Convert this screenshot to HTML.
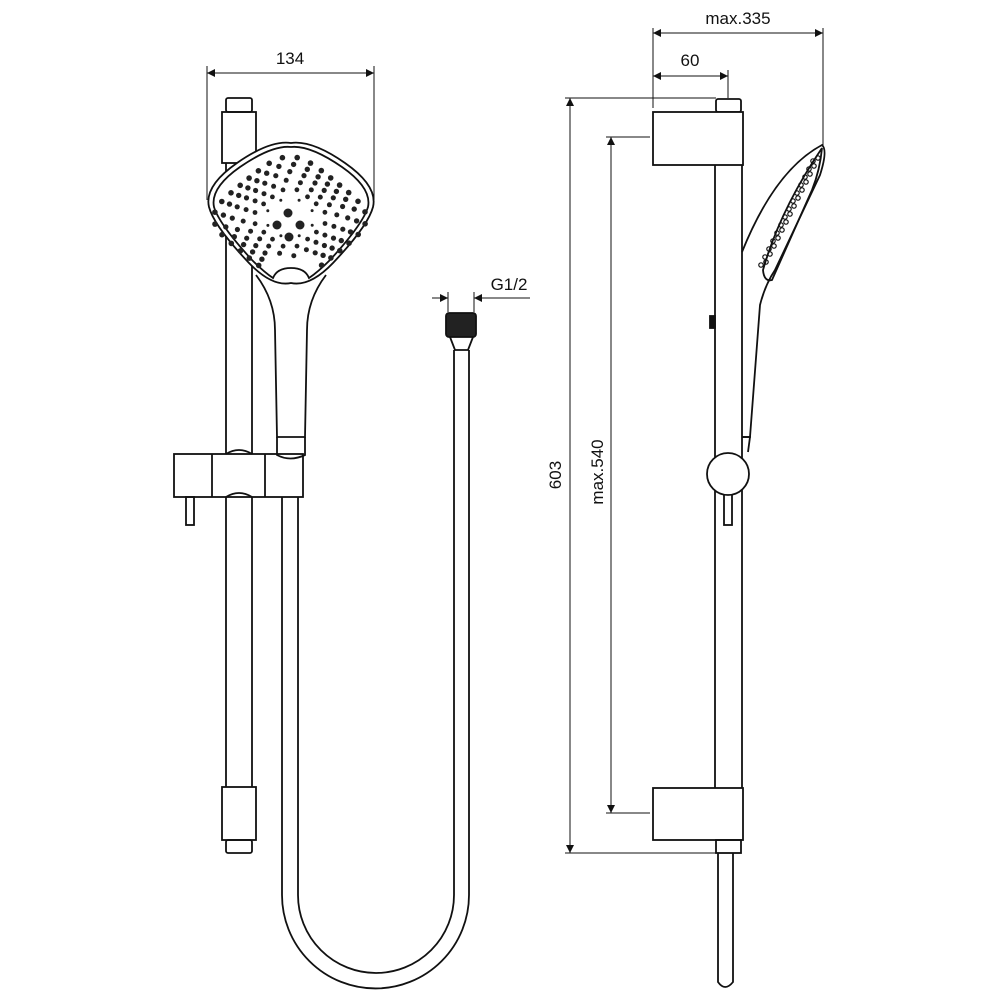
<!DOCTYPE html>
<html><head><meta charset="utf-8"><style>
html,body{margin:0;padding:0;background:#fff;}
svg{display:block;}
text{font-family:"Liberation Sans",Arial,sans-serif;font-size:17px;fill:#111;}
</style></head><body>
<svg id="s" width="1000" height="1000" viewBox="0 0 1000 1000" xmlns="http://www.w3.org/2000/svg">
<defs>
<marker id="a" viewBox="0 0 10 10" refX="10" refY="5" markerWidth="14" markerHeight="8" markerUnits="userSpaceOnUse" orient="auto-start-reverse"><path d="M0,0L10,5L0,10z" fill="#111"/></marker>
</defs>
<g fill="none" stroke="#111" stroke-width="1.8">
<rect x="226" y="98" width="26" height="14" rx="2"/>
<rect x="222" y="112" width="34" height="51"/>
<line x1="226" y1="163" x2="226" y2="787"/>
<line x1="252" y1="163" x2="252" y2="787"/>
<rect x="222" y="787" width="34" height="53"/>
<rect x="226" y="840" width="26" height="13" rx="2"/>
<path d="M282,497 L282,895 A93.5,93.5 0 0 0 469,895 L469,350"/>
<path d="M298,497 L298,895 A78,78 0 0 0 454,895 L454,350"/>
<path d="M450,337 L455,350 L468,350 L473,337"/>
<rect x="446" y="313" width="30" height="24" rx="3" fill="#222"/>
<rect x="174" y="454" width="129" height="43" fill="#fff"/>
<line x1="212" y1="454" x2="212" y2="497"/>
<line x1="265" y1="454" x2="265" y2="497"/>
<path d="M226,454 Q239,446 252,454"/>
<path d="M226,497 Q239,489 252,497"/>
<rect x="186" y="497" width="8" height="28"/>
<path d="M256,275 Q275,300 275,330 L277,437 L305,437 L307,330 Q307,300 326,275" fill="#fff"/>
<path d="M277,437 L277,455 Q290,462 305,455 L305,437"/>
<path d="M291,143 Q312,140 345,163 Q378,186 373,207 Q368,226 333,263 Q310,287 291,283 Q272,287 249,263 Q214,226 209,207 Q204,186 237,163 Q270,140 291,143 Z" fill="#fff"/>
<path d="M291,147 Q310,145 342,167 Q372,188 368,207 Q363,224 330,260 Q318,272 309,278 Q305,268 291,268 Q277,268 273,278 Q264,272 252,260 Q219,224 214,207 Q210,188 240,167 Q272,145 291,147 Z"/>
<rect x="716" y="99" width="25" height="13" rx="2"/>
<rect x="653" y="112" width="90" height="53" fill="#fff"/>
<line x1="715" y1="165" x2="715" y2="788"/>
<line x1="742" y1="165" x2="742" y2="788"/>
<rect x="653" y="788" width="90" height="52" fill="#fff"/>
<rect x="716" y="840" width="25" height="13"/>
<path d="M718,853 L718,982 Q725,992 733,982 L733,853"/>
<rect x="710" y="316" width="5" height="12" fill="#111"/>
<path d="M742,252 Q775,170 822,145 Q828,150 820,175 L775,270 Q765,285 760,305 L750,437 L742,437"/>
<path d="M822,148 Q820,170 812,190 L772,280 Q764,282 763,270 Q780,210 822,148"/>
<path d="M742,437 L750,437 L748,452"/>
<rect x="724" y="494" width="8" height="31"/>
<circle cx="728" cy="474" r="21" fill="#fff"/>
</g>
<g id="dots" fill="#222"></g>
<g fill="#222">
<circle cx="288" cy="213" r="4.5"/><circle cx="277" cy="225" r="4.5"/><circle cx="300" cy="225" r="4.5"/><circle cx="289" cy="237" r="4.5"/>
</g>
<g fill="none" stroke="#111" stroke-width="1.2" id="noz"></g>
<g stroke="#111" stroke-width="1" fill="none">
<line x1="207" y1="73" x2="374" y2="73" marker-start="url(#a)" marker-end="url(#a)"/>
<line x1="207" y1="66" x2="207" y2="200"/>
<line x1="374" y1="66" x2="374" y2="200"/>
<line x1="653" y1="33" x2="823" y2="33" marker-start="url(#a)" marker-end="url(#a)"/>
<line x1="653" y1="28" x2="653" y2="108"/>
<line x1="823" y1="28" x2="823" y2="145"/>
<line x1="653" y1="76" x2="728" y2="76" marker-start="url(#a)" marker-end="url(#a)"/>
<line x1="728" y1="70" x2="728" y2="98"/>
<line x1="570" y1="98" x2="570" y2="853" marker-start="url(#a)" marker-end="url(#a)"/>
<line x1="565" y1="98" x2="716" y2="98"/>
<line x1="565" y1="853" x2="716" y2="853"/>
<line x1="611" y1="137" x2="611" y2="813" marker-start="url(#a)" marker-end="url(#a)"/>
<line x1="606" y1="137" x2="650" y2="137"/>
<line x1="606" y1="813" x2="650" y2="813"/>
<line x1="432" y1="298" x2="448" y2="298" marker-end="url(#a)"/>
<line x1="530" y1="298" x2="474" y2="298" marker-end="url(#a)"/>
<line x1="448" y1="292" x2="448" y2="312"/>
<line x1="474" y1="292" x2="474" y2="312"/>
</g>
<text x="290" y="64" text-anchor="middle">134</text>
<text x="738" y="24" text-anchor="middle">max.335</text>
<text x="690" y="66" text-anchor="middle">60</text>
<text x="509" y="290" text-anchor="middle">G1/2</text>
<text transform="translate(561,475) rotate(-90)" text-anchor="middle">603</text>
<text transform="translate(603,472) rotate(-90)" text-anchor="middle">max.540</text>
</svg>
<script>
(function(){
var g=document.getElementById('dots'),ns='http://www.w3.org/2000/svg';
var cx=290,cy=218;
var rings=[[23,8,1.5],[32,16,2.4],[41,20,2.5],[50,24,2.6],[58,28,2.7],[66,32,2.8]];
rings.forEach(function(r,j){
 var R=r[0],n=r[1];
 for(var i=0;i<n;i++){
  var t=2*Math.PI*(i+0.5*(j%2))/n+0.39;
  var c=Math.cos(t),s=Math.sin(t);
  var p=4,k=Math.pow(Math.pow(Math.abs(c),p)+Math.pow(Math.abs(s),p),-1/p);
  var x=c*k,y=s*k;
  var xr=(x-y)*0.707,yr=(x+y)*0.707;
  var px=cx+xr*R*0.97,py=cy+yr*R*0.78;
  if(py>258&&Math.abs(px-cx)<26) continue;
  var e=document.createElementNS(ns,'circle');
  e.setAttribute('cx',px.toFixed(1));e.setAttribute('cy',py.toFixed(1));e.setAttribute('r',r[2]);
  g.appendChild(e);
 }
});
var z=document.getElementById('noz');
for(var i=0;i<14;i++){
 var x=818-i*4.0,y=158+i*8.0;
 var e=document.createElementNS(ns,'circle');
 e.setAttribute('cx',x);e.setAttribute('cy',y);e.setAttribute('r',2.2);z.appendChild(e);
 var f=document.createElementNS(ns,'circle');
 f.setAttribute('cx',x-5);f.setAttribute('cy',y+3);f.setAttribute('r',2.2);z.appendChild(f);
}
})();
</script>
</body></html>
